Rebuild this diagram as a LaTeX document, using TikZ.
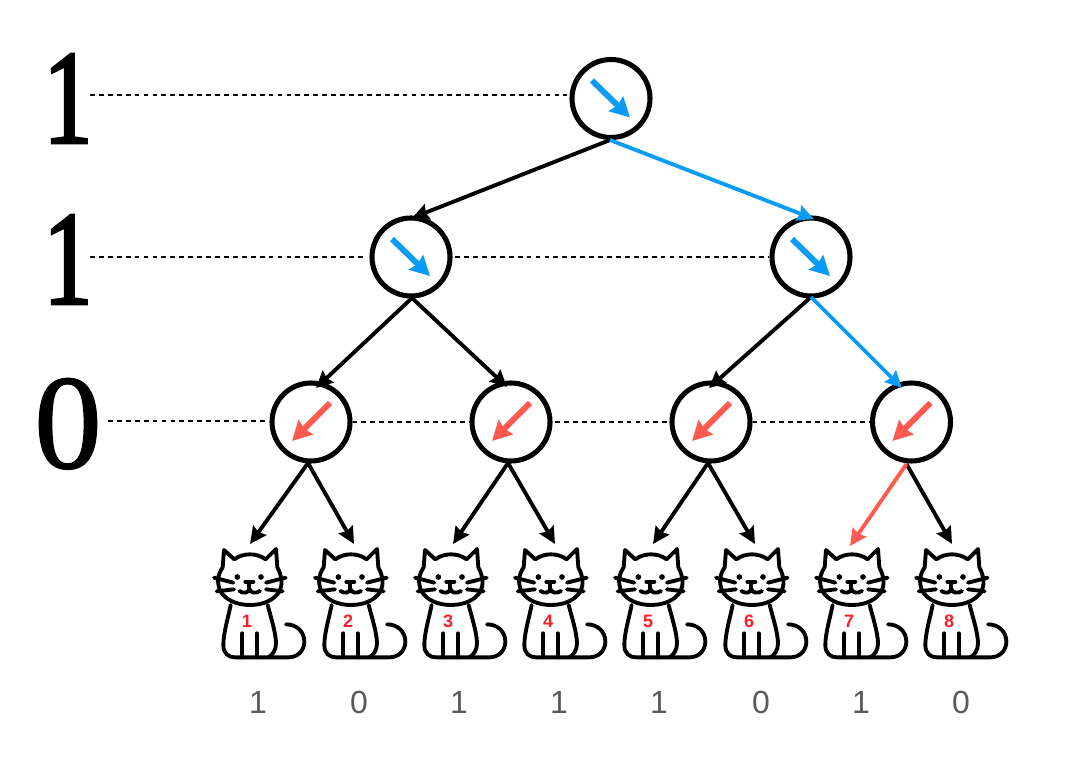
\documentclass[tikz,border=0pt]{standalone}
\usepackage{fontspec}
\setmainfont{Liberation Sans}
\newfontfamily\oneface[FakeStretch=0.72,FakeBold=2.2]{Liberation Serif}
\newfontfamily\zeroface[FakeBold=1.2]{Liberation Serif}
\usetikzlibrary{arrows.meta}
\definecolor{bluec}{HTML}{0A9BF5}
\definecolor{redc}{HTML}{FF5A4F}
\definecolor{greyc}{HTML}{5A5A5A}
\definecolor{numc}{HTML}{FF1E27}
\tikzset{
  x=0.75pt,y=-0.75pt,
  tree/.style={circle,draw=black,line width=3.8pt,minimum size=58.5pt,inner sep=0pt},
  edge/.style={line width=2.9pt,-{Stealth[length=12.5pt,width=12pt,inset=1.5pt]}},
  dir/.style={line width=4.4pt,-{Stealth[length=14.5pt,width=15pt,inset=1.5pt]}},
  level/.style={dash pattern=on 3.6pt off 3.1pt,line width=1.2pt,black},
  bigone/.style={font=\oneface\fontsize{101pt}{101pt}\selectfont,inner sep=0pt,anchor=base},
  bigzero/.style={font=\zeroface\fontsize{101pt}{101pt}\selectfont,inner sep=0pt,anchor=base},
  bit/.style={font=\fontsize{24pt}{24pt}\selectfont,text=greyc,inner sep=0pt,anchor=base},
  catnum/.style={font=\bfseries\fontsize{13.5pt}{13.5pt}\selectfont,text=numc,inner sep=0pt,anchor=base},
  catline/.style={line width=2.9pt,line cap=round,line join=round},
  cat/.pic={
    \begin{scope}[scale=1/3]
    \draw[catline] (72,60) -- (103,88) .. controls (130,68) and (170,68) .. (197,88) -- (228,57) -- (232,112)
      .. controls (247,140) and (248,165) .. (238,185) .. controls (222,210) and (190,225) .. (150,225)
      .. controls (110,225) and (78,210) .. (62,185) .. controls (50,160) and (52,135) .. (68,112) -- cycle;
    \draw[catline] (42,143) -- (100,158) (50,184) -- (102,178) (257,143) -- (198,158) (248,184) -- (198,178);
    \fill (112,141) circle (8.5) (183,141) circle (8.5);
    \draw[catline] (136,155) -- (160,155) (148,156) -- (148,176);
    \draw[catline] (118,183) .. controls (130,191) and (146,190) .. (148,176) .. controls (150,190) and (168,191) .. (180,183);
    \draw[catline] (92,225) .. controls (85,260) and (70,310) .. (70,345) .. controls (70,370) and (85,382) .. (105,382)
      -- (265,382) .. controls (295,382) and (313,360) .. (313,335) .. controls (313,305) and (290,283) .. (258,283);
    \draw[catline] (203,225) .. controls (212,260) and (228,310) .. (228,340) .. controls (228,360) and (218,375) .. (205,382);
    \draw[catline] (127,310) -- (127,382) (170,310) -- (170,382);
    \end{scope}
  }
}
\begin{document}
\begin{tikzpicture}
\useasboundingbox (0,0) rectangle (1066,762);
% tree nodes
\node[tree] (n1) at (611,98.5) {};
\node[tree] (n2) at (411,257) {};
\node[tree] (n3) at (811,257) {};
\node[tree] (n4) at (311,422) {};
\node[tree] (n5) at (511,422) {};
\node[tree] (n6) at (711,422) {};
\node[tree] (n7) at (911.5,422) {};
% direction arrows
\foreach \n in {n1,n2,n3}{
  \coordinate (a) at ([shift={(-19,-18)}]\n.center);
  \coordinate (b) at ([shift={(19,19)}]\n.center);
  \draw[dir,bluec] (a) -- (b);
}
\foreach \n in {n4,n5,n6,n7}{
  \coordinate (a) at ([shift={(19,-19)}]\n.center);
  \coordinate (b) at ([shift={(-19,19)}]\n.center);
  \draw[dir,redc] (a) -- (b);
}
% big digits
\node[bigone] (l1) at (68,143) {1};
\node[bigone] (l2) at (68,304) {1};
\node[bigzero] (l3) at (68,468) {0};
\coordinate (d1) at (90,95);
\coordinate (d2) at (90,257);
\coordinate (d3) at (108,421);
\draw[level,shorten >=2pt] (d1) -- (d1 -| n1.west);
\draw[level,shorten >=2pt] (d2) -- (d2 -| n2.west);
\draw[level,shorten >=2pt] (d3) -- (d3 -| n4.west);
\draw[level,shorten <=2pt] (n2.east) -- (n3.west);
\draw[level] (n4.east) -- (n5.west);
\draw[level,shorten <=2pt] (n5.east) -- (n6.west);
\draw[level] (n6.east) -- (n7.west);
% cats
\foreach \i/\off in {1/0,2/101,3/201,4/301,5/401,6/502,7/602,8/702}{
  \pic at (200+\off,530) {cat};
  \node[catnum] (c\i) at (247+\off,627) {\i};
}
\node[bit] (b1) at (258,713) {1};
\node[bit] (b2) at (359,713) {0};
\node[bit] (b3) at (459,713) {1};
\node[bit] (b4) at (559,713) {1};
\node[bit] (b5) at (659,713) {1};
\node[bit] (b6) at (761,713) {0};
\node[bit] (b7) at (861,713) {1};
\node[bit] (b8) at (961,713) {0};
% connector ends
\coordinate (s1) at (610,140);
\coordinate (s2) at (412,298);
\coordinate (s3) at (811,297);
\coordinate (s4) at (308,463);
\coordinate (s5) at (508,463);
\coordinate (s6) at (708,463);
\coordinate (s7) at (906.5,464);
\coordinate (t2) at (412,218);
\coordinate (t3) at (814,219);
\coordinate (t4) at (316,388);
\coordinate (t5) at (507,387);
\coordinate (t6) at (709,388);
\coordinate (t7) at (902,388);
\coordinate (k1) at (250,544);
\coordinate (k2) at (354,544);
\coordinate (k3) at (453,544);
\coordinate (k4) at (555,544);
\coordinate (k5) at (653,544);
\coordinate (k6) at (755,544);
\coordinate (k7) at (850,546);
\coordinate (k8) at (952,544);
\draw[edge] (s1) -- (t2);
\draw[edge] (s2) -- (t4);
\draw[edge] (s2) -- (t5);
\draw[edge] (s3) -- (t6);
\draw[edge] (s4) -- (k1);
\draw[edge] (s4) -- (k2);
\draw[edge] (s5) -- (k3);
\draw[edge] (s5) -- (k4);
\draw[edge] (s6) -- (k5);
\draw[edge] (s6) -- (k6);
\draw[edge] (s7) -- (k8);
\draw[edge,bluec] (s1) -- (t3);
\draw[edge,bluec] (s3) -- (t7);
\draw[edge,redc] (s7) -- (k7);
\end{tikzpicture}
\end{document}
